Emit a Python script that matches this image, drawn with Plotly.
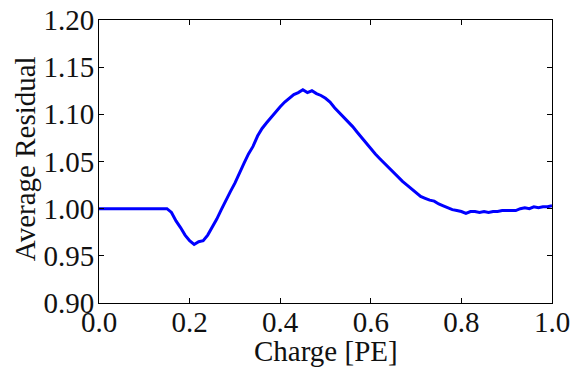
import plotly.graph_objects as go

charge = [0.00, 0.05, 0.10, 0.15, 0.16, 0.17, 0.18, 0.19, 0.20, 0.21, 0.22, 0.23, 0.24, 0.25,
          0.26, 0.27, 0.28, 0.29, 0.30, 0.31, 0.32, 0.33, 0.34, 0.35, 0.36, 0.37, 0.38, 0.39,
          0.40, 0.41, 0.42, 0.43, 0.44, 0.45, 0.46, 0.47, 0.48, 0.49, 0.50, 0.51, 0.52, 0.53,
          0.54, 0.55, 0.56, 0.57, 0.58, 0.59, 0.60, 0.61, 0.62, 0.63, 0.64, 0.65, 0.66, 0.67,
          0.68, 0.69, 0.70, 0.71, 0.72, 0.73, 0.74, 0.75, 0.76, 0.77, 0.78, 0.79, 0.80, 0.81,
          0.82, 0.83, 0.84, 0.85, 0.86, 0.87, 0.88, 0.89, 0.90, 0.91, 0.92, 0.93, 0.94, 0.95,
          0.96, 0.97, 0.98, 0.99, 1.00]
residual = [1.000, 1.000, 1.000, 1.000, 0.996, 0.987, 0.980, 0.972, 0.966, 0.962, 0.965, 0.966, 0.972, 0.980,
            0.989, 0.999, 1.009, 1.018, 1.027, 1.038, 1.048, 1.058, 1.066, 1.077, 1.085, 1.091, 1.097, 1.103,
            1.108, 1.113, 1.117, 1.121, 1.123, 1.126, 1.123, 1.125, 1.122, 1.120, 1.117, 1.113, 1.107, 1.102,
            1.097, 1.093, 1.087, 1.081, 1.075, 1.069, 1.063, 1.058, 1.053, 1.048, 1.044, 1.039, 1.034, 1.029,
            1.025, 1.021, 1.017, 1.013, 1.011, 1.009, 1.008, 1.005, 1.003, 1.001, 0.999, 0.998, 0.997, 0.995,
            0.997, 0.997, 0.996, 0.997, 0.996, 0.997, 0.997, 0.998, 0.998, 0.998, 0.998, 1.000, 1.001, 1.000,
            1.002, 1.001, 1.002, 1.002, 1.003]

x_ticks = [0.0, 0.2, 0.4, 0.6, 0.8, 1.0]
y_ticks = [0.90, 0.95, 1.00, 1.05, 1.10, 1.15, 1.20]
x_title = "Charge [PE]"
y_title = "Average Residual"

FONT = '"Liberation Serif", "DejaVu Serif", serif'
TXT = "#111111"
FS = 29

fig = go.Figure()
fig.add_trace(go.Scatter(x=charge, y=residual, mode="lines",
                         line=dict(color="#0000ff", width=3)))

axis_common = dict(showline=True, linecolor="black", linewidth=1, mirror="ticks",
                   ticks="inside", ticklen=5, tickcolor="black", showgrid=False,
                   zeroline=False, automargin=False, ticklabeloverflow="allow",
                   tickfont=dict(family=FONT, size=FS, color=TXT))

fig.update_xaxes(range=[0, 1], tickvals=x_ticks, ticktext=[f"{v:.1f}" for v in x_ticks],
                 ticklabelstandoff=-7, **axis_common)
fig.update_yaxes(range=[0.90, 1.20], tickvals=y_ticks, ticktext=[f"{v:.2f}" for v in y_ticks],
                 ticklabelstandoff=-2, **axis_common)

fig.add_annotation(text=x_title, xref="paper", yref="paper", x=0.5, y=-0.17,
                   xanchor="center", yanchor="middle", showarrow=False,
                   font=dict(family=FONT, size=FS, color=TXT))
fig.add_annotation(text=y_title, xref="paper", yref="paper", x=-0.1645, y=0.51,
                   xanchor="center", yanchor="middle", textangle=-90, showarrow=False,
                   font=dict(family=FONT, size=FS, color=TXT))

fig.update_layout(width=571, height=372, margin=dict(l=99, r=19, t=20, b=69),
                  font=dict(family=FONT),
                  plot_bgcolor="white", paper_bgcolor="white", showlegend=False)

fig.write_html("out.html", config={"displayModeBar": False},
               post_script="document.body.style.margin='0px';")
